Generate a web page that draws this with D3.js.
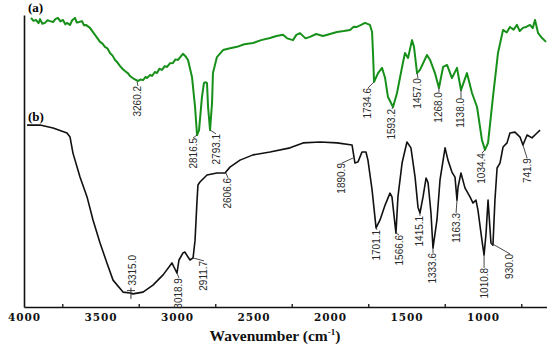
<!DOCTYPE html>
<html>
<head>
<meta charset="utf-8">
<script src="https://cdn.jsdelivr.net/npm/d3@7"></script>
<style>
  body { margin: 0; background: #fff; }
</style>
</head>
<body>
<svg id="vis"></svg>
<script>
// espectro (a): [numero de onda, transmitancia u.a.]
const curvaA = [
  [3954, 99.0], [3938, 98.0], [3922, 98.3], [3905, 97.2], [3895, 98.6], [3880, 97.0],
  [3863, 97.3], [3846, 98.2], [3830, 97.9], [3810, 97.6], [3795, 98.6], [3778, 99.0],
  [3762, 97.8], [3745, 98.3], [3730, 96.8], [3719, 97.3], [3699, 96.6], [3685, 98.2],
  [3667, 99.0], [3655, 97.4], [3640, 97.6], [3621, 97.9], [3608, 96.5], [3595, 96.6],
  [3569, 95.6], [3536, 93.2], [3503, 90.8], [3487, 90.2], [3471, 89.1], [3455, 88.6],
  [3438, 87.0], [3420, 86.0], [3405, 84.6], [3390, 83.8], [3373, 82.6], [3355, 81.5],
  [3340, 80.8], [3320, 80.0], [3307, 79.1], [3281, 78.1], [3255, 77.4], [3240, 77.9],
  [3222, 77.7], [3205, 78.8], [3196, 78.4], [3175, 79.5], [3163, 79.1], [3145, 80.5],
  [3131, 80.1], [3115, 81.6], [3098, 81.2], [3080, 82.5], [3065, 82.2], [3045, 83.5],
  [3026, 83.6], [3010, 84.8], [2993, 84.6], [2975, 85.8], [2961, 86.7], [2945, 85.9],
  [2928, 84.6], [2902, 78.8], [2882, 68.5], [2869, 58.9], [2856, 60.6], [2837, 71.9],
  [2824, 76.7], [2815, 77.0], [2804, 76.7], [2797, 68.5], [2784, 60.6], [2771, 69.9],
  [2765, 80.1], [2739, 85.6], [2699, 88.0], [2660, 88.5], [2608, 89.1], [2560, 90.0],
  [2503, 90.4], [2450, 91.4], [2392, 92.1], [2350, 92.8], [2307, 93.2], [2280, 92.0],
  [2242, 91.4], [2220, 93.2], [2196, 93.8], [2160, 92.0], [2131, 92.5], [2090, 93.5],
  [2046, 92.8], [2000, 93.5], [1954, 94.2], [1910, 94.5], [1869, 94.9], [1845, 96.0],
  [1824, 95.9], [1800, 96.5], [1771, 97.3], [1739, 96.6], [1725, 94.2], [1719, 87.0],
  [1712, 77.1], [1686, 80.1], [1660, 81.9], [1640, 78.4], [1621, 71.9], [1588, 68.5],
  [1562, 73.3], [1529, 82.2], [1510, 87.0], [1490, 85.3], [1464, 91.4], [1451, 89.1],
  [1431, 80.1], [1412, 81.2], [1366, 86.3], [1346, 84.6], [1314, 80.1], [1288, 75.0],
  [1261, 82.2], [1235, 82.9], [1203, 78.4], [1170, 81.9], [1144, 74.3], [1105, 80.1],
  [1072, 73.3], [1039, 68.5], [1007, 57.2], [987, 53.8], [967, 56.2], [935, 71.9],
  [902, 87.0], [869, 94.9], [845, 94.0], [824, 95.9], [800, 95.0], [778, 96.6],
  [760, 94.5], [739, 95.6], [715, 96.0], [693, 96.6], [675, 95.5], [660, 98.3],
  [640, 93.8], [614, 92.1], [588, 90.8],
];

// espectro (b)
const curvaB = [
  [3980, 62.3], [3895, 62.3], [3810, 61.3], [3719, 59.6], [3699, 58.2], [3680, 52.7],
  [3634, 44.5], [3588, 37.7], [3549, 29.8], [3503, 21.9], [3458, 15.1], [3418, 9.2],
  [3353, 5.1], [3307, 4.8], [3288, 4.5], [3222, 5.1], [3157, 7.5], [3091, 11.0],
  [3033, 15.1], [3020, 13.7], [3000, 11.6], [2987, 16.1], [2961, 18.5], [2948, 18.8],
  [2928, 17.1], [2915, 16.1], [2895, 16.8], [2882, 22.9], [2869, 36.6], [2863, 41.8],
  [2850, 42.8], [2804, 45.2], [2739, 45.9], [2686, 45.9], [2654, 47.9], [2588, 50.3],
  [2503, 52.1], [2392, 53.1], [2261, 54.5], [2176, 56.2], [2065, 56.5], [1954, 56.2],
  [1856, 55.5], [1837, 49.3], [1817, 49.7], [1791, 53.1], [1765, 53.1], [1752, 50.3],
  [1725, 40.1], [1699, 27.1], [1673, 29.8], [1640, 34.9], [1608, 39.0], [1595, 37.7],
  [1569, 25.3], [1556, 37.7], [1529, 49.3], [1497, 56.5], [1471, 54.5], [1444, 44.5],
  [1425, 34.2], [1412, 32.2], [1392, 37.7], [1372, 44.2], [1359, 42.5], [1340, 32.2],
  [1327, 20.2], [1301, 29.8], [1281, 43.5], [1248, 54.5], [1229, 50.3], [1203, 46.2],
  [1183, 44.5], [1170, 36.6], [1163, 41.1], [1144, 45.9], [1118, 40.8], [1085, 37.7],
  [1065, 35.6], [1046, 36.6], [1033, 33.2], [1007, 22.9], [993, 17.8], [980, 25.3],
  [967, 36.6], [948, 21.9], [935, 21.2], [922, 36.6], [908, 47.6], [889, 49.3],
  [869, 54.8], [843, 56.2], [824, 59.6], [791, 59.9], [758, 58.2], [739, 55.5],
  [712, 58.9], [680, 57.9], [647, 59.6], [627, 60.6],
];

// etiquetas de picos: punto en la curva y punto superior del texto
const picosA = [
  { label: "3260.2", at: [3261, 77.1], text: [3255, 75.7] },
  { label: "2816.5", at: [2869, 58.9], text: [2895, 57.9] },
  { label: "2793.1", at: [2784, 60.6], text: [2745, 59.3] },
  { label: "1734.6", at: [1712, 77.1], text: [1752, 75.0] },
  { label: "1593.2", at: [1588, 68.5], text: [1595, 67.8] },
  { label: "1457.0", at: [1431, 80.1], text: [1425, 78.4] },
  { label: "1268.0", at: [1288, 75.0], text: [1288, 73.6] },
  { label: "1138.0", at: [1144, 74.3], text: [1144, 71.6] },
  { label: "1034.4", at: [987, 53.8], text: [1007, 52.7] },
];

const picosB = [
  { label: "3315.0", at: [3301, 4.5], text: [3288, 17.8], marca: true },
  { label: "3018.9", at: [3000, 11.6], text: [2987, 9.9] },
  { label: "2911.7", at: [2895, 16.8], text: [2824, 15.8] },
  { label: "2606.6", at: [2680, 45.9], text: [2667, 44.2] },
  { label: "1890.9", at: [1850, 51.0], text: [1922, 49.3] },
  { label: "1701.1", at: [1699, 27.1], text: [1693, 26.4] },
  { label: "1566.6", at: [1569, 25.3], text: [1549, 24.7] },
  { label: "1415.1", at: [1412, 32.2], text: [1412, 31.2] },
  { label: "1333.6", at: [1327, 20.2], text: [1327, 18.5] },
  { label: "1163.3", at: [1170, 36.6], text: [1176, 32.2] },
  { label: "1010.8", at: [993, 17.8], text: [993, 13.4] },
  { label: "930.0", at: [948, 21.9], text: [824, 18.2] },
  { label: "741.9", at: [739, 55.5], text: [712, 51.0] },
];

const TICKS_X = [4000, 3500, 3000, 2500, 2000, 1500, 1000];
const TICKS_MENORES = [3750, 3250, 2750, 2250, 1750, 1250, 750];

const WIDTH = 550;
const HEIGHT = 348;
const MARGIN = { top: 15, bottom: 41, left: 24, right: 3.5 };

const svg = d3.select("#vis").attr("width", WIDTH).attr("height", HEIGHT);

const escalaX = d3
  .scaleLinear()
  .domain([4000, 585])
  .range([MARGIN.left, WIDTH - MARGIN.right]);

const escalaY = d3
  .scaleLinear()
  .domain([0, 100])
  .range([HEIGHT - MARGIN.bottom, MARGIN.top]);

// ejes
const ejeX = svg
  .append("g")
  .attr("transform", `translate(0, ${HEIGHT - MARGIN.bottom})`)
  .call(
    d3
      .axisBottom(escalaX)
      .tickValues(TICKS_X)
      .tickFormat(d3.format("d"))
      .tickSize(0)
      .tickSizeOuter(0)
      .tickPadding(6.5)
  );
ejeX.select(".domain").attr("stroke", "#111").attr("stroke-width", 1.6);
ejeX
  .selectAll("text")
  .attr("font-family", "DejaVu Serif")
  .attr("font-weight", "bold")
  .attr("font-size", "10.5px")
  .attr("letter-spacing", "0.9px")
  .attr("fill", "#111");

const ejeMenor = svg
  .append("g")
  .attr("transform", `translate(0, ${HEIGHT - MARGIN.bottom})`)
  .call(d3.axisTop(escalaX).tickValues(TICKS_MENORES).tickSize(3).tickFormat(""));
ejeMenor.select(".domain").remove();
ejeMenor.selectAll("line").attr("stroke", "#222").attr("stroke-width", 1.4);

const ejeY = svg
  .append("g")
  .attr("transform", `translate(${MARGIN.left}, 0)`)
  .call(d3.axisLeft(escalaY).tickValues([]).tickSize(0).tickSizeOuter(0));
ejeY.select(".domain").attr("stroke", "#111").attr("stroke-width", 1.6);

// curvas
const linea = d3
  .line()
  .x((d) => escalaX(d[0]))
  .y((d) => escalaY(d[1]));

svg
  .append("path")
  .datum(curvaA)
  .attr("d", linea)
  .attr("fill", "none")
  .attr("stroke", "#17901a")
  .attr("stroke-width", 2)
  .attr("stroke-linejoin", "round");

svg
  .append("path")
  .datum(curvaB)
  .attr("d", linea)
  .attr("fill", "none")
  .attr("stroke", "#111")
  .attr("stroke-width", 1.6)
  .attr("stroke-linejoin", "round");

function dibujarPicos(picos) {
  const g = svg.append("g");

  const textos = g
    .selectAll("text")
    .data(picos)
    .join("text")
    .attr(
      "transform",
      (d) => `translate(${escalaX(d.text[0])}, ${escalaY(d.text[1])}) rotate(-90)`
    )
    .attr("dy", "0.35em")
    .attr("text-anchor", "end")
    .attr("font-family", "Liberation Sans, Arial, sans-serif")
    .attr("font-size", "10px")
    .attr("fill", "#2a2a2a")
    .text((d) => d.label);

  g.selectAll("line.guia")
    .data(picos.filter((d) => !d.marca))
    .join("line")
    .attr("class", "guia")
    .attr("x1", (d) => escalaX(d.at[0]))
    .attr("y1", (d) => escalaY(d.at[1]))
    .attr("x2", (d) => escalaX(d.text[0]))
    .attr("y2", (d) => escalaY(d.text[1]))
    .attr("stroke", "#333")
    .attr("stroke-width", 0.9);

  // marca en cruz debajo del texto (3315.0)
  textos
    .filter((d) => d.marca)
    .each(function (d) {
      const largo = this.getComputedTextLength();
      const x = escalaX(d.at[0]);
      const yIni = escalaY(d.text[1]) + largo + 2;
      const yFin = escalaY(d.at[1]) + 5;
      g.append("line")
        .attr("x1", x).attr("x2", x)
        .attr("y1", yIni).attr("y2", yFin)
        .attr("stroke", "#333").attr("stroke-width", 1);
      g.append("line")
        .attr("x1", x - 4).attr("x2", x + 4)
        .attr("y1", yIni + 3).attr("y2", yIni + 3)
        .attr("stroke", "#333").attr("stroke-width", 1);
    });
}

dibujarPicos(picosA);
dibujarPicos(picosB);

// rotulos (a) y (b)
svg
  .append("text")
  .attr("x", 28)
  .attr("y", 12)
  .attr("font-family", "Liberation Serif, serif")
  .attr("font-weight", "bold")
  .attr("font-size", "13px")
  .text("(a)");

svg
  .append("text")
  .attr("x", 28)
  .attr("y", 121)
  .attr("font-family", "Liberation Serif, serif")
  .attr("font-weight", "bold")
  .attr("font-size", "13px")
  .text("(b)");

// titulo eje X
const titulo = svg
  .append("text")
  .attr("x", 275)
  .attr("y", 341)
  .attr("text-anchor", "middle")
  .attr("font-family", "Liberation Serif, serif")
  .attr("font-weight", "bold")
  .attr("font-size", "15.5px")
  .attr("fill", "#111");
titulo.append("tspan").text("Wavenumber (cm");
titulo.append("tspan").attr("dy", -6).attr("font-size", "9px").text("-1");
titulo.append("tspan").attr("dy", 6).text(")");
</script>
</body>
</html>
